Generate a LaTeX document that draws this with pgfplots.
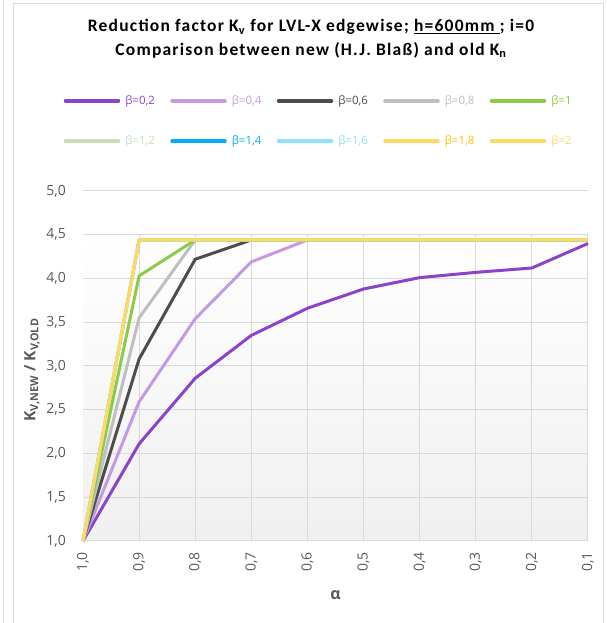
\documentclass[border=0pt]{standalone}
\usepackage{pgfplots}
\pgfplotsset{compat=1.18}
\usepackage{fontspec}
\setmainfont{Open Sans}
\newfontfamily\titlefont[LetterSpace=7]{Carlito}
\definecolor{c1}{HTML}{8B44C8}
\definecolor{c2}{HTML}{C49BE3}
\definecolor{c3}{HTML}{4D4D4D}
\definecolor{c4}{HTML}{BFBFBF}
\definecolor{c5}{HTML}{8CCB48}
\definecolor{c6}{HTML}{C5E0B4}
\definecolor{c7}{HTML}{00B0F0}
\definecolor{c8}{HTML}{8FDFFF}
\definecolor{c9}{HTML}{FFD966}
\definecolor{t9}{HTML}{FFC000}
\definecolor{gridcol}{HTML}{D9D9D9}
\definecolor{tickcol}{HTML}{595959}
\definecolor{framecol}{HTML}{D9D9D9}
\newcommand{\legent}[2]{\makebox[30pt][l]{\textcolor{#1}{#2}}}
\begin{document}
\begin{tikzpicture}[x=1pt,y=1pt]
\useasboundingbox (0,0) rectangle (606,623);
\draw[framecol, line width=1pt] (13,-5) -- (13,619) -- (603,619) -- (603,-5);
\draw[framecol, line width=1pt] (3,-5) -- (3,628);
\node[font=\titlefont\fontsize{17.5}{20}\selectfont\bfseries] at (311,596) {Reduction factor K\textsubscript{v} for LVL-X edgewise; \underline{h=600mm }; i=0};
\node[font=\titlefont\fontsize{17.5}{20}\selectfont\bfseries] at (311,573) {Comparison between new (H.J. Blaß) and old K\textsubscript{n}};
\begin{axis}[
  at={(83pt,82pt)}, anchor=south west,
  scale only axis, width=505pt, height=350pt,
  xmin=0, xmax=9, ymin=1, ymax=5,
  xtick={0,...,9},
  xticklabels={{1,0},{0,9},{0,8},{0,7},{0,6},{0,5},{0,4},{0,3},{0,2},{0,1}},
  ytick={1,1.5,...,5},
  yticklabels={{1,0},{1,5},{2,0},{2,5},{3,0},{3,5},{4,0},{4,5},{5,0}},
  axis line style={draw=none},
  major tick length=0pt,
  clip=false,
  tick label style={font=\fontsize{14}{16}\selectfont, text=tickcol},
  yticklabel style={inner sep=0pt, anchor=east, xshift=-17pt},
  xticklabel style={yshift=-11pt, rotate=90, anchor=east, inner sep=0pt},
  xlabel={α},
  xlabel style={at={(axis description cs:0.5,-0.154)}, anchor=center, font=\fontsize{16}{18}\selectfont\bfseries, text=tickcol},
  ylabel={\textbf{K\textsubscript{V,NEW} / K\textsubscript{V,OLD}}},
  ylabel style={at={(axis description cs:-0.101,0.489)}, anchor=center, font=\fontsize{15.5}{17}\selectfont, text=tickcol},
  legend columns=5,
  legend cell align=left,
  legend style={at={(axis description cs:0.4743,1.2)}, anchor=center, draw=none, fill=none, inner sep=0pt,
    nodes={inner sep=0pt},
    font=\fontsize{11.5}{13}\selectfont,
    /tikz/every odd column/.append style={column sep=5pt},
    /tikz/every even column/.append style={column sep=15pt}, row sep=30pt},
  legend image code/.code={\draw[line width=3.5pt, line cap=round] (0pt,0pt) -- (53pt,0pt);},
  every axis plot/.append style={line width=3pt, line join=round},
]
\shade[top color=white, bottom color=black!6] (axis cs:0,1) rectangle (axis cs:9,4.5);
\pgfplotsinvokeforeach{1,1.5,...,5}{\draw[gridcol, line width=1pt] (axis cs:0,#1) -- (axis cs:9,#1);}
\pgfplotsinvokeforeach{1,...,9}{\draw[gridcol, line width=1pt] (axis cs:#1,1) -- (axis cs:#1,4.5);}
\addplot[c1] coordinates {(0,1) (1,2.11) (2,2.86) (3,3.35) (4,3.66) (5,3.88) (6,4.01) (7,4.07) (8,4.12) (9,4.40)};
\addlegendentry{\legent{c1}{β=0,2}}
\addplot[c2] coordinates {(0,1) (1,2.59) (2,3.54) (3,4.19) (4,4.44) (5,4.44) (6,4.44) (7,4.44) (8,4.44) (9,4.44)};
\addlegendentry{\legent{c2}{β=0,4}}
\addplot[c3] coordinates {(0,1) (1,3.08) (2,4.22) (3,4.44) (4,4.44) (5,4.44) (6,4.44) (7,4.44) (8,4.44) (9,4.44)};
\addlegendentry{\legent{c3}{β=0,6}}
\addplot[c4] coordinates {(0,1) (1,3.55) (2,4.44) (3,4.44) (4,4.44) (5,4.44) (6,4.44) (7,4.44) (8,4.44) (9,4.44)};
\addlegendentry{\legent{c4}{β=0,8}}
\addplot[c5] coordinates {(0,1) (1,4.03) (2,4.44) (3,4.44) (4,4.44) (5,4.44) (6,4.44) (7,4.44) (8,4.44) (9,4.44)};
\addlegendentry{\legent{c5}{β=1}}
\addplot[c6] coordinates {(0,1) (1,4.44) (2,4.44) (3,4.44) (4,4.44) (5,4.44) (6,4.44) (7,4.44) (8,4.44) (9,4.44)};
\addlegendentry{\legent{c6}{β=1,2}}
\addplot[c7] coordinates {(0,1) (1,4.44) (2,4.44) (3,4.44) (4,4.44) (5,4.44) (6,4.44) (7,4.44) (8,4.44) (9,4.44)};
\addlegendentry{\legent{c7}{β=1,4}}
\addplot[c8] coordinates {(0,1) (1,4.44) (2,4.44) (3,4.44) (4,4.44) (5,4.44) (6,4.44) (7,4.44) (8,4.44) (9,4.44)};
\addlegendentry{\legent{c8}{β=1,6}}
\addplot[c9] coordinates {(0,1) (1,4.44) (2,4.44) (3,4.44) (4,4.44) (5,4.44) (6,4.44) (7,4.44) (8,4.44) (9,4.44)};
\addlegendentry{\legent{t9}{β=1,8}}
\addplot[c9] coordinates {(0,1) (1,4.44) (2,4.44) (3,4.44) (4,4.44) (5,4.44) (6,4.44) (7,4.44) (8,4.44) (9,4.44)};
\addlegendentry{\legent{c9}{β=2}}
\end{axis}
\end{tikzpicture}
\end{document}
